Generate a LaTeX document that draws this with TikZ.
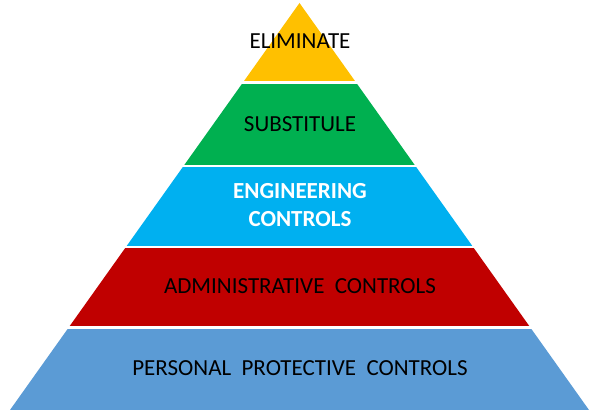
\documentclass[tikz,border=0pt]{standalone}
\usepackage{fontspec}
\setmainfont{Carlito}
\usetikzlibrary{positioning}
\definecolor{elimyellow}{HTML}{FFC000}
\definecolor{subgreen}{HTML}{00B050}
\definecolor{engcyan}{HTML}{00B0F0}
\definecolor{admred}{HTML}{C00000}
\definecolor{ppeblue}{HTML}{5B9BD5}
\tikzset{
	level/.style={anchor=base, inner sep=0pt, font=\fontsize{23}{27}\selectfont},
	levelbold/.style={level, text=white, font=\fontsize{23}{27}\selectfont\bfseries},
}

\begin{document}
\begin{tikzpicture}[x=1pt,y=-1pt]
		\useasboundingbox (0,0) rectangle (590,411);
		% the five bands, cut out of one triangle
		\begin{scope}
			\clip (299.5,3) -- (589,410) -- (10,410) -- cycle;
			\fill[elimyellow] (0,0) rectangle (590,81);
			\fill[subgreen] (0,84) rectangle (590,165);
			\fill[engcyan] (0,167.5) rectangle (590,246);
			\fill[admred] (0,248.5) rectangle (590,326.5);
			\fill[ppeblue] (0,329) rectangle (590,411);
		\end{scope}
		% labels
		\node[level] (elim) at (300,48.5) {ELIMINATE};
		\node[level] (subst) at (300,132) {SUBSTITULE};
		\node[levelbold] (eng) at (300,199) {ENGINEERING};
		\node[levelbold] (engctl) at (300,227) {CONTROLS};
		\node[level] (admin) at (300,294) {ADMINISTRATIVE\ \ CONTROLS};
		\node[level] (ppe) at (300,376) {PERSONAL\ \ PROTECTIVE\ \ CONTROLS};
	\end{tikzpicture}
\end{document}
